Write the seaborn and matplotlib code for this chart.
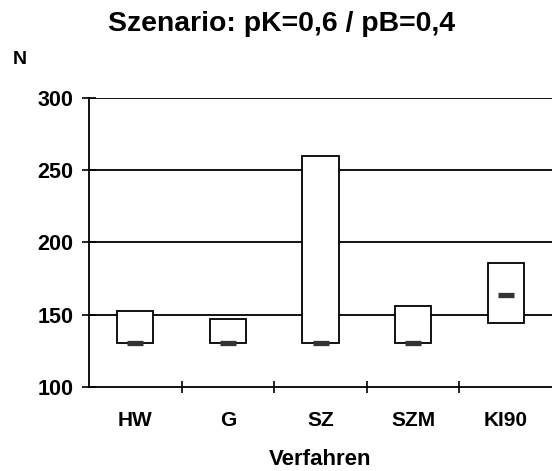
import matplotlib
matplotlib.use("Agg")
import matplotlib.pyplot as plt
import seaborn as sns
import numpy as np
import pandas as pd

categories = ["HW", "G", "SZ", "SZM", "KI90"]
min_vals = [130.4, 130.4, 130.4, 130.4, 144.2]
max_vals = [152.7, 147.2, 260.0, 156.4, 185.6]
mid_vals = [130.4, 130.4, 130.4, 130.4, 163.7]
y_ticks = [100, 150, 200, 250, 300]

sns.set_theme(style="white")
plt.rcParams["font.family"] = ["Liberation Sans", "DejaVu Sans"]
plt.rcParams["font.weight"] = "bold"
plt.rcParams["text.color"] = "black"
plt.rcParams["axes.labelcolor"] = "black"
plt.rcParams["xtick.color"] = "black"
plt.rcParams["ytick.color"] = "black"
plt.rcParams["xtick.labelcolor"] = "black"
plt.rcParams["ytick.labelcolor"] = "black"

df = pd.DataFrame({
    "Verfahren": categories,
    "height": np.array(max_vals) - np.array(min_vals),
    "bottom": min_vals,
    "mid": mid_vals,
})

fig = plt.figure(figsize=(5.52, 4.71), dpi=100)
ax = fig.add_axes([89 / 552, 83.7 / 471, 1 - 89 / 552, (387.3 - 97.7) / 471])

# gridlines
for yv in y_ticks[1:]:
    ax.axhline(yv, color="black", lw=1.3, zorder=1)

sns.barplot(data=df, x="Verfahren", y="height", bottom=df["bottom"].values,
            order=categories, color="white", edgecolor="black", linewidth=1.3,
            width=0.39, ax=ax, zorder=3, saturation=1)

sns.scatterplot(data=df, x=np.arange(len(categories)), y="mid", marker="_",
                s=11 ** 2, linewidth=3.8, color="#333333", ax=ax, zorder=4)

ax.set_xlim(-0.5, 4.5)
ax.set_ylim(100, 300)
ax.set_yticks(y_ticks)
ax.set_yticklabels([str(v) for v in y_ticks], fontsize=15.5, fontweight="bold", color="black")
ax.set_xticks(range(len(categories)))
ax.set_xticklabels(categories, fontsize=15, fontweight="bold", color="black")
ax.set_xticks(np.arange(0.5, 4.0, 1.0), minor=True)
ax.tick_params(axis="x", which="major", length=0, pad=17, bottom=False)
ax.tick_params(axis="x", which="minor", direction="inout", length=9, width=1.2,
               color="black", bottom=True)
ax.tick_params(axis="y", direction="inout", length=10, width=1.2, color="black",
               pad=6, left=True)
for s in ["top", "right"]:
    ax.spines[s].set_visible(False)
for s in ["left", "bottom"]:
    ax.spines[s].set_color("black")
    ax.spines[s].set_linewidth(1.3)
ax.set_ylabel("")
ax.set_xlabel("")
ax.grid(False)

fig.text(320 / 552, 1 - 465 / 471, "Verfahren", ha="center", va="baseline",
         fontsize=16, fontweight="bold", color="black")
fig.text(282 / 552, 1 - 24 / 471, "Szenario: pK=0,6 / pB=0,4", ha="center", va="center",
         fontsize=20.4, fontweight="bold", color="black")
fig.text(13 / 552, 1 - 59 / 471, "N", ha="left", va="center", fontsize=14,
         fontweight="bold", color="black")

fig.savefig("out.png", dpi=100)
